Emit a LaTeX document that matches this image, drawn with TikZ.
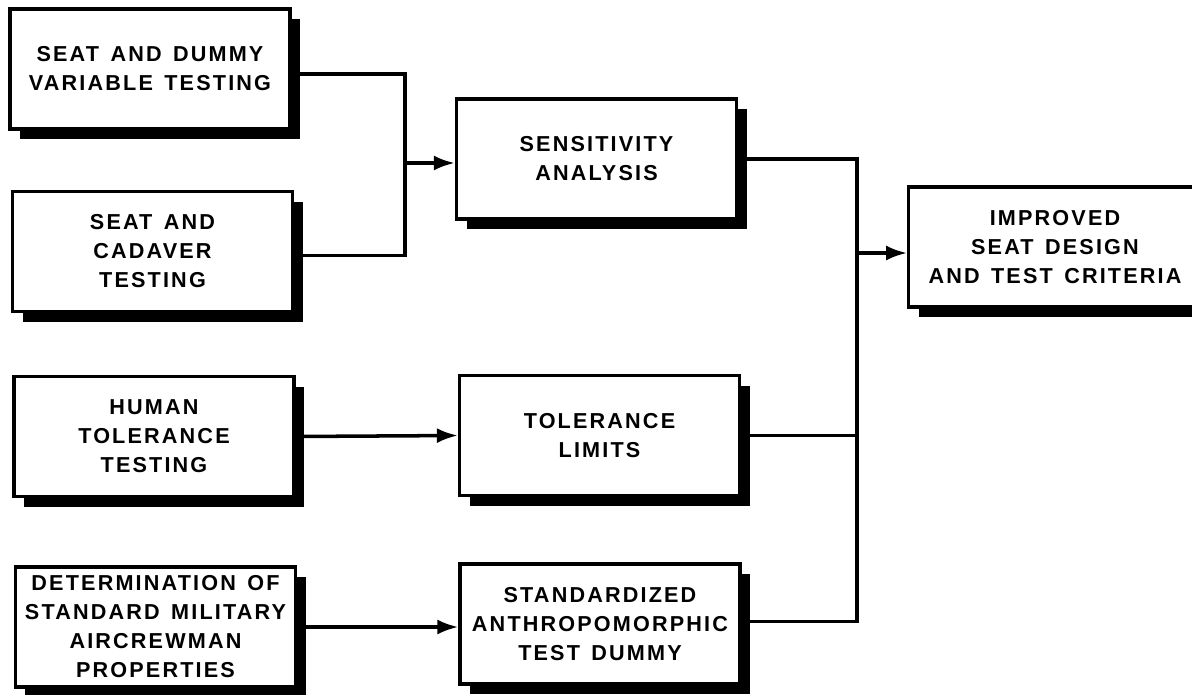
\documentclass[tikz,border=0pt]{standalone}
\usepackage{fontspec}
\newfontfamily\boxfont{Liberation Sans}[LetterSpace=10,WordSpace=1.4]
\usepackage{tikz}
\usetikzlibrary{arrows.meta,positioning,shadows}

\begin{document}
\begin{tikzpicture}[
  box/.style={rectangle, draw=black, line width=1.8pt, fill=white,
    minimum width=5.6cm, minimum height=2.4cm, align=center,
    font=\boxfont\bfseries\fontsize{12.3}{16.5}\selectfont,
    drop shadow={shadow xshift=0.2cm, shadow yshift=-0.2cm, fill=black, opacity=1}},
  arr/.style={-{Latex[length=0.42cm,width=0.3cm]}, line width=2pt},
  lin/.style={line width=2pt}
]
\useasboundingbox (0,0) rectangle (23.84,-13.88);
% left column
\node[box] (dummy) at (3.0,-1.38) {SEAT AND DUMMY\\VARIABLE TESTING};
\node[box] (cadaver) at (3.05,-5.03) {SEAT AND\\CADAVER\\TESTING};
\node[box] (human) at (3.08,-8.73) {HUMAN\\TOLERANCE\\TESTING};
\node[box] (determ) at (3.11,-12.54) {DETERMINATION OF\\STANDARD MILITARY\\AIRCREWMAN\\PROPERTIES};
% middle column
\node[box] (sens) at (11.93,-3.18) {SENSITIVITY\\ANALYSIS};
\node[box] (tol) at (11.99,-8.71) {TOLERANCE\\LIMITS};
\node[box] (std) at (12.0,-12.48) {STANDARDIZED\\ANTHROPOMORPHIC\\TEST DUMMY};
% result
\node[box, minimum width=5.85cm] (improved) at (21.1,-4.94) {IMPROVED\\SEAT DESIGN\\AND TEST CRITERIA};

\coordinate (jl) at (8.1,-3.26);
\coordinate (jr) at (17.14,-5.06);

\draw[lin] ([yshift=-0.1cm]dummy.east) -| (jl) |- ([yshift=-0.08cm]cadaver.east);
\draw[arr] (jl) -- (sens.west |- jl);
\draw[arr] (human.east) -- (tol.west);
\draw[arr] (determ.east) -- (std.west |- determ.east);
\draw[lin] (sens.east) -| (jr) |- ([yshift=0.05cm]std.east);
\draw[lin] (tol.east) -- (tol.east -| jr);
\draw[arr] (jr) -- (improved.west |- jr);
\end{tikzpicture}
\end{document}
